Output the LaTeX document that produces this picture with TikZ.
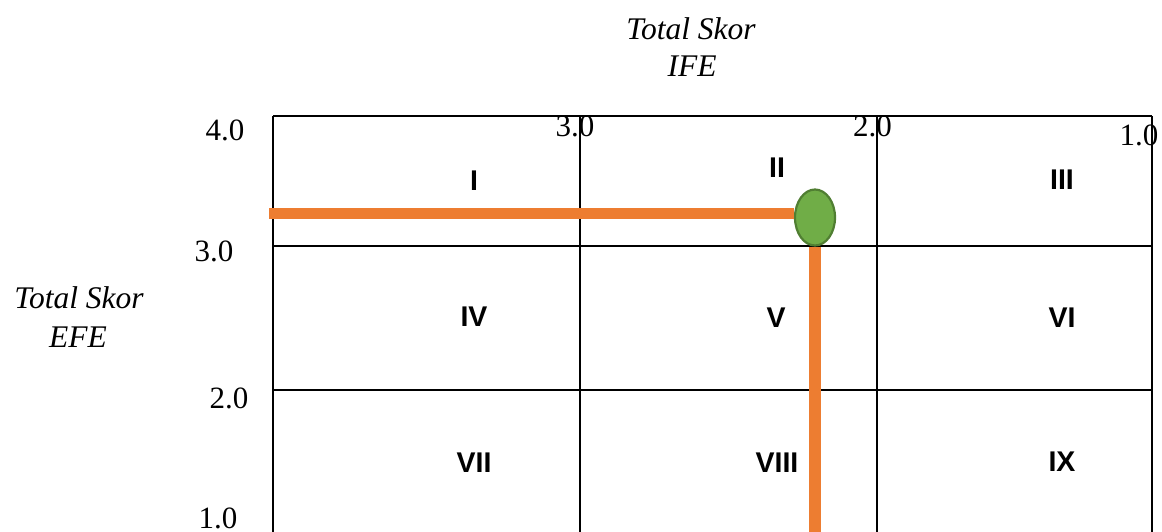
\documentclass[tikz,border=0pt]{standalone}
\usepackage{fontspec}
\setmainfont{Liberation Serif}
\newfontfamily\numfont{Liberation Sans}
\usetikzlibrary{shapes.geometric}
\definecolor{lineorange}{HTML}{ED7D31}
\definecolor{dotgreen}{HTML}{70AD47}
\definecolor{dotedge}{HTML}{507E32}
\begin{document}
\begin{tikzpicture}[x=1pt,y=-1pt,
  gridline/.style={draw=black,line width=2.2pt},
  path/.style={draw=lineorange,line width=11.5pt},
  scale label/.style={inner sep=0pt,font=\fontsize{31}{36}\selectfont},
  axis title/.style={inner sep=0pt,anchor=base,font=\fontsize{31.5}{36}\selectfont\itshape},
  cell/.style={inner sep=0pt,font=\fontsize{28.5}{32}\selectfont\numfont\bfseries},
  point/.style={ellipse,draw=dotedge,fill=dotgreen,line width=2.2pt,
    minimum width=40pt,minimum height=56pt,inner sep=0pt}]
\useasboundingbox (0,0) rectangle (1162,532);

% grid of the IE matrix
\coordinate (c1) at (273,116);
\coordinate (c2) at (580,116);
\coordinate (c3) at (877,116);
\coordinate (c4) at (1152,116);
\coordinate (b1) at (273,532);
\coordinate (b2) at (580,532);
\coordinate (b3) at (877,532);
\coordinate (b4) at (1152,532);
\coordinate (r3l) at (273,246);
\coordinate (r3r) at (1152,246);
\coordinate (r2l) at (273,390);
\coordinate (r2r) at (1152,390);
\draw[gridline] (c1) -- (c4);
\draw[gridline] (r3l) -- (r3r);
\draw[gridline] (r2l) -- (r2r);
\draw[gridline] (c1) -- (b1);
\draw[gridline] (c2) -- (b2);
\draw[gridline] (c3) -- (b3);
\draw[gridline] (c4) -- (b4);

% IFE scale along the top
\node[scale label] (x3) at (575,126.5) {3.0};
\node[scale label] (x2) at (872.5,126.5) {2.0};
\node[scale label] (x1) at (1139,135) {1.0};

% EFE scale on the left
\node[scale label] (y4) at (225,130.5) {4.0};
\node[scale label] (y3) at (214,251) {3.0};
\node[scale label] (y2) at (229,398) {2.0};
\node[scale label] (y1) at (218,518.5) {1.0};

% axis titles
\node[axis title] (ifeA) at (691,39.5) {Total Skor};
\node[axis title] (ifeB) at (692,77) {IFE};
\node[axis title] (efeA) at (79,308) {Total Skor};
\node[axis title] (efeB) at (78,347) {EFE};

% cell numbers
\node[cell] (k1) at (474,181) {I};
\node[cell] (k2) at (777,168) {II};
\node[cell] (k3) at (1062,180) {III};
\node[cell] (k4) at (474,317) {IV};
\node[cell] (k5) at (776,318) {V};
\node[cell] (k6) at (1062,318) {VI};
\node[cell] (k7) at (474,463) {VII};
\node[cell] (k8) at (777,463) {VIII};
\node[cell] (k9) at (1062,462) {IX};

% position of the company
\node[point] (pt) at (815,217.5) {};
\coordinate (hstart) at (269,213.5);
\coordinate (vend) at (815,532);
\draw[path] (hstart) -- (hstart -| pt.west);
\draw[path] (pt.south) -- (vend);
\end{tikzpicture}
\end{document}
